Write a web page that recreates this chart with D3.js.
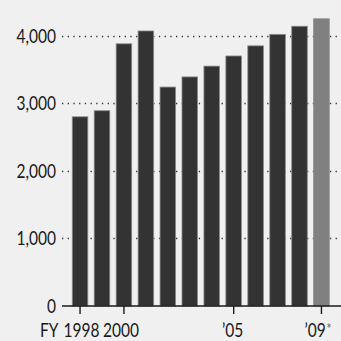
<!DOCTYPE html>
<html><head><meta charset="utf-8">
<script src="https://cdn.jsdelivr.net/npm/d3@7"></script>
<style>
html,body{margin:0;padding:0;background:#f0f0f0;}
svg{display:block;}
text{font-family:Lato,"Open Sans",sans-serif;fill:#1a1a1a;}
</style></head>
<body>
<svg id="c" width="341" height="341"></svg>
<script>
const years = [1998,1999,2000,2001,2002,2003,2004,2005,2006,2007,2008,2009];
const values = [2800,2890,3880,4070,3240,3390,3550,3700,3850,4020,4140,4250];
const yTicks = [0,1000,2000,3000,4000];
const xTickYears = [1998,2000,2005,2009];
const xTickLabels = ["1998","2000","\u201905","\u201909"];
const xLabelShift = [1.5,-3,-1,-3.5];

const FS = 18.5, SX = 0.84, XBASE = 337;
const svg = d3.select("#c");
const x = d3.scaleBand().domain(years).range([61.5,340]).paddingInner(0.29).paddingOuter(0.49);
const y = d3.scaleLinear().domain([0,4000]).range([306,35.7]);
const cx = d => x(d) + x.bandwidth()/2;

// gridlines
svg.append("g").selectAll("line").data(yTicks.filter(d=>d>0)).join("line")
  .attr("x1",62).attr("x2",341)
  .attr("y1",d=>Math.round(y(d))+0.5).attr("y2",d=>Math.round(y(d))+0.5)
  .attr("stroke","#333").attr("stroke-width",1.3).attr("stroke-dasharray","1.3,4.4");

// y labels
svg.append("g").selectAll("text").data(yTicks).join("text")
  .attr("transform",d=>`translate(56,${y(d)+6.8}) scale(${SX},1)`)
  .attr("text-anchor","end").attr("font-size",FS)
  .text(d=>d3.format(",")(d));

// bars
svg.append("g").selectAll("rect").data(years).join("rect")
  .attr("x",d=>x(d)).attr("width",x.bandwidth())
  .attr("y",(d,i)=>y(values[i])).attr("height",(d,i)=>y(0)-y(values[i]))
  .attr("fill",(d,i)=>i===years.length-1?"#808080":"#333333")
  .attr("stroke",(d,i)=>i===years.length-1?"#8a8a8a":"#8c8c8c").attr("stroke-width",0.8);

// x axis line
svg.append("line").attr("x1",62).attr("x2",341).attr("y1",306).attr("y2",306)
  .attr("stroke","#1a1a1a").attr("stroke-width",1.6);

// ticks
svg.append("g").selectAll("line").data(xTickYears).join("line")
  .attr("x1",cx).attr("x2",cx)
  .attr("y1",306).attr("y2",314).attr("stroke","#1a1a1a").attr("stroke-width",1.4);

// x labels
const xl = svg.append("g").selectAll("text").data(xTickYears).join("text")
  .attr("transform",(d,i)=>`translate(${cx(d)+xLabelShift[i]},${XBASE}) scale(${SX},1)`)
  .attr("text-anchor","middle").attr("font-size",FS)
  .text((d,i)=>xTickLabels[i]);
xl.filter(d=>d===2009).append("tspan").attr("font-size",15).attr("dy",-3).attr("dx",0.5)
  .attr("fill","#666").text("*");

svg.append("text").attr("transform",`translate(58.5,${XBASE}) scale(${SX},1)`)
  .attr("text-anchor","end").attr("font-size",FS).text("FY");
</script>
</body></html>
